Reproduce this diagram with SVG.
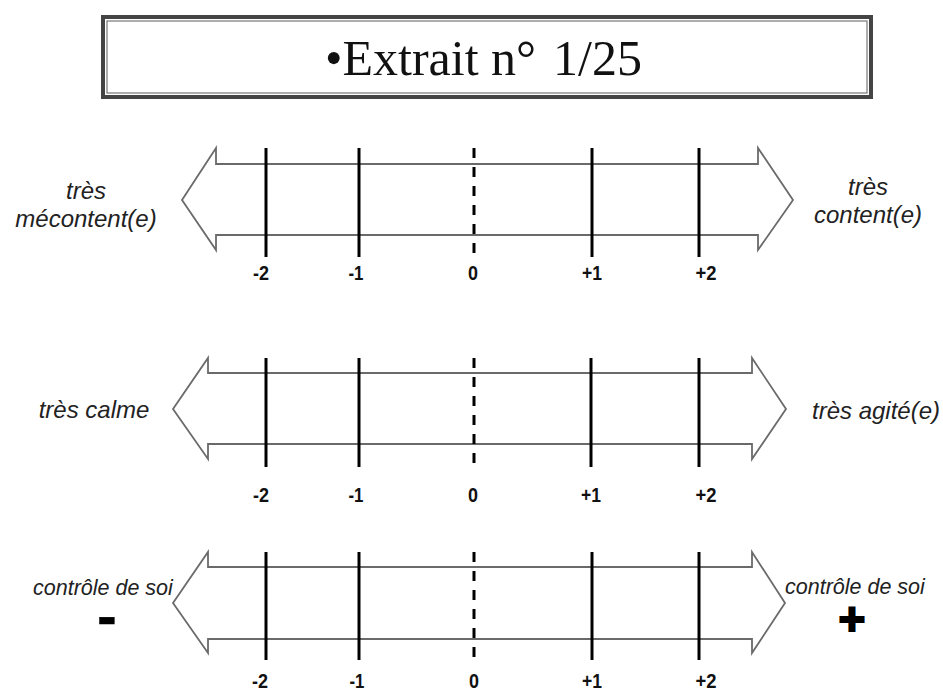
<svg xmlns="http://www.w3.org/2000/svg" width="943" height="691" viewBox="0 0 943 691">
<style>
.arrow{fill:#fff;stroke:#6a6a6a;stroke-width:1.8;stroke-linejoin:miter}
.tick{stroke:#000;stroke-width:3}
.zero{stroke:#000;stroke-width:3;stroke-dasharray:10 9}
.num{font-family:"Liberation Sans",Arial,sans-serif;font-weight:bold;font-size:21px;fill:#111;text-anchor:middle}
.side{font-family:"Liberation Sans",Arial,sans-serif;font-style:italic;font-size:24px;fill:#222;text-anchor:middle}
.soi{font-family:"Liberation Sans",Arial,sans-serif;font-style:italic;font-size:21.5px;fill:#222}
.sign{font-family:"Liberation Sans",Arial,sans-serif;font-weight:bold;fill:#000;stroke:#000;text-anchor:middle}
</style>
<rect width="943" height="691" fill="#fff"/>
<g id="title">
<rect x="103" y="17" width="768" height="80" fill="#fff" stroke="#444" stroke-width="4"/>
<rect x="107" y="21" width="760" height="72" fill="none" stroke="#777" stroke-width="1.2"/>
<text x="325" y="75" font-family="Liberation Serif,'Times New Roman',serif" font-size="50" fill="#111">•Extrait n°<tspan x="553">1/25</tspan></text>
</g>
<g id="scale1">
<polygon class="arrow" points="182,200 216,148 216,164 758,164 758,148 793,200 758,250 758,235 216,235 216,250"/>
<line class="tick" x1="266" y1="148" x2="266" y2="257"/>
<line class="tick" x1="359" y1="148" x2="359" y2="257"/>
<line class="zero" x1="474" y1="148" x2="474" y2="257"/>
<line class="tick" x1="592" y1="148" x2="592" y2="257"/>
<line class="tick" x1="699" y1="148" x2="699" y2="257"/>
<text class="num" x="261" y="280" textLength="16" lengthAdjust="spacingAndGlyphs">-2</text>
<text class="num" x="356" y="280" textLength="15" lengthAdjust="spacingAndGlyphs">-1</text>
<text class="num" x="473" y="280" textLength="10" lengthAdjust="spacingAndGlyphs">0</text>
<text class="num" x="592" y="280" textLength="20" lengthAdjust="spacingAndGlyphs">+1</text>
<text class="num" x="706" y="280" textLength="21" lengthAdjust="spacingAndGlyphs">+2</text>
<text class="side" x="86" y="199">très</text>
<text class="side" x="86" y="227">mécontent(e)</text>
<text class="side" x="868" y="195">très</text>
<text class="side" x="868" y="223">content(e)</text>
</g>
<g id="scale2">
<polygon class="arrow" points="173,409 208,358 208,373 752,373 752,358 786,409 752,459 752,444 208,444 208,459"/>
<line class="tick" x1="266" y1="358" x2="266" y2="467"/>
<line class="tick" x1="359" y1="358" x2="359" y2="467"/>
<line class="zero" x1="474" y1="358" x2="474" y2="467"/>
<line class="tick" x1="591" y1="358" x2="591" y2="467"/>
<line class="tick" x1="699" y1="358" x2="699" y2="467"/>
<text class="num" x="261" y="502" textLength="16" lengthAdjust="spacingAndGlyphs">-2</text>
<text class="num" x="356" y="502" textLength="15" lengthAdjust="spacingAndGlyphs">-1</text>
<text class="num" x="473" y="502" textLength="10" lengthAdjust="spacingAndGlyphs">0</text>
<text class="num" x="591" y="502" textLength="20" lengthAdjust="spacingAndGlyphs">+1</text>
<text class="num" x="706" y="502" textLength="21" lengthAdjust="spacingAndGlyphs">+2</text>
<text class="side" x="94" y="418">très calme</text>
<text class="side" x="876" y="419">très agité(e)</text>
</g>
<g id="scale3">
<polygon class="arrow" points="173,603 208,552 208,567 752,567 752,552 785,603 752,653 752,639 208,639 208,653"/>
<line class="tick" x1="266" y1="552" x2="266" y2="660"/>
<line class="tick" x1="359" y1="552" x2="359" y2="660"/>
<line class="zero" x1="474" y1="552" x2="474" y2="660"/>
<line class="tick" x1="592" y1="552" x2="592" y2="660"/>
<line class="tick" x1="699" y1="552" x2="699" y2="660"/>
<text class="num" x="260" y="688" textLength="16" lengthAdjust="spacingAndGlyphs">-2</text>
<text class="num" x="357" y="688" textLength="15" lengthAdjust="spacingAndGlyphs">-1</text>
<text class="num" x="474" y="688" textLength="10" lengthAdjust="spacingAndGlyphs">0</text>
<text class="num" x="592" y="688" textLength="20" lengthAdjust="spacingAndGlyphs">+1</text>
<text class="num" x="706" y="688" textLength="21" lengthAdjust="spacingAndGlyphs">+2</text>
<text class="soi" x="33" y="595">contrôle de soi</text>
<text class="soi" x="785" y="594">contrôle de soi</text>
<text class="sign" x="107" y="636" font-size="58" stroke-width="0.5">-</text>
<text class="sign" x="852" y="635" font-size="46" stroke-width="2">+</text>
</g>
</svg>
